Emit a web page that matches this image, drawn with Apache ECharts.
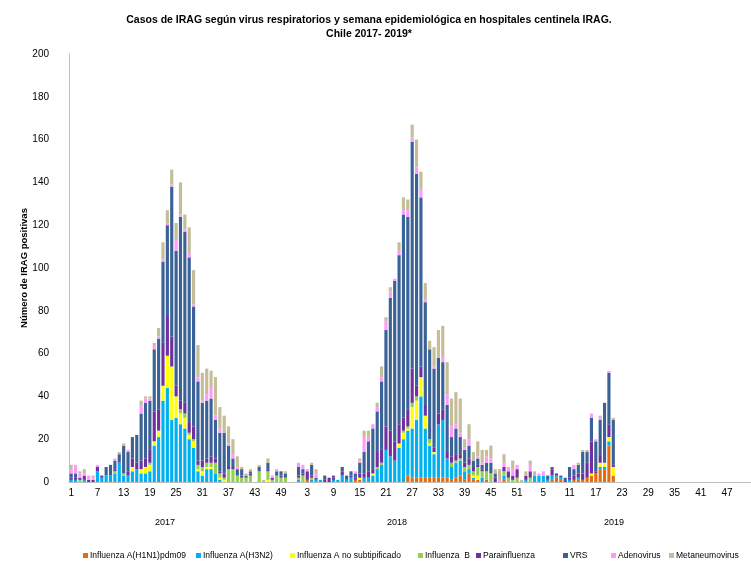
<!DOCTYPE html>
<html>
<head>
<meta charset="utf-8">
<script src="https://cdn.jsdelivr.net/npm/echarts@6/dist/echarts.min.js"></script>
<style>
  html, body { margin: 0; padding: 0; background: #fff; }
  #chart { width: 751px; height: 566px; }
</style>
</head>
<body>
<div id="chart"></div>
<script>
// ===== datos: casos por semana epidemiológica (2017, 2018, 2019) =====
const h1n1_2017 = [0,0,0,0,0,0,0,0,0,0, 0,0,0,0,0,0,0,0,0,0, 0,0,0,0,0,0,0,0,0,0, 0,0,0,0,0,0,0,0,0,0, 0,0,0,0,0,0,0,0,0,0, 0,0];
const h3n2_2017 = [1,1,0,1,0,0,5,2,3,3, 4,9,3,3,5,6,4,4,5,17, 21,38,44,29,30,27,25,20,16,5, 3,6,6,4,1,0,0,0,0,0, 0,0,0,0,0,0,0,0,0,0, 0,0];
const noSub_2017 = [0,0,0,0,0,0,0,0,0,0, 0,0,0,0,2,0,2,3,3,2, 3,7,15,25,10,5,5,2,3,1, 2,1,1,0,1,1,0,0,0,0, 0,0,0,0,0,1,0,0,0,0, 0,0];
const fluB_2017 = [0,0,1,0,0,0,0,0,0,0, 1,0,1,0,0,0,0,0,1,0, 0,0,0,0,0,2,2,1,1,2, 2,2,2,5,2,1,6,6,3,2, 2,3,0,5,0,4,1,3,2,2, 0,0];
const para_2017 = [1,1,1,2,1,1,2,1,0,0, 1,0,0,2,4,3,4,4,6,14, 10,20,19,14,5,4,5,5,6,2, 3,2,3,2,1,2,1,1,0,1, 0,1,0,0,0,1,1,0,1,0, 0,0];
const vrs_2017 = [2,2,0,0,0,0,0,0,4,5, 4,4,13,9,10,13,22,26,23,29, 33,38,42,70,63,86,80,77,56,37, 27,27,27,18,18,19,10,4,3,3, 1,1,0,2,0,3,0,2,2,2, 0,0];
const adeno_2017 = [2,4,2,1,2,1,1,0,0,0, 1,0,0,1,0,0,4,2,1,2, 1,1,1,1,5,1,1,2,1,2, 1,3,5,2,2,0,1,2,1,0, 0,0,0,0,0,0,1,1,0,0, 0,0];
const meta_2017 = [2,0,1,2,0,1,0,0,0,0, 0,1,1,0,0,0,2,1,1,1, 4,8,6,7,8,15,7,12,16,15, 13,12,8,18,10,8,8,7,5,1, 1,1,0,1,1,2,0,0,0,1, 0,0];

const h1n1_2018 = [0,0,1,0,0,0,0,0,0,0, 0,0,0,1,1,0,0,0,0,0, 0,0,0,0,0,3,2,2,2,2, 2,2,2,2,2,1,2,3,1,4, 1,1,0,1,0,0,0,1,0,0, 0,0];
const h3n2_2018 = [1,0,0,1,1,1,0,0,1,1, 3,1,2,0,0,2,2,3,6,8, 15,12,10,16,20,21,23,27,38,23, 15,11,25,27,9,6,7,7,4,2, 1,0,2,0,0,0,0,2,0,0, 0,0];
const noSub_2018 = [0,0,0,0,0,0,0,0,0,0, 0,0,0,0,1,0,0,1,0,0, 0,0,0,2,3,1,10,9,9,6, 1,1,0,0,0,0,0,0,0,0, 1,2,0,0,0,0,0,0,0,0, 0,0];
const fluB_2018 = [1,3,0,1,0,0,0,0,0,0, 0,0,0,0,0,0,0,0,1,1, 0,0,0,0,1,1,2,2,0,0, 2,0,0,0,0,2,1,1,2,2, 2,4,3,4,4,0,0,2,2,1, 2,0];
const para_2018 = [1,1,4,1,0,0,1,2,1,0, 2,0,1,1,2,2,3,2,7,6, 11,12,9,9,6,8,16,5,5,5, 0,2,5,5,3,3,3,2,2,3, 2,1,1,0,0,2,0,2,3,2, 4,0];
const vrs_2018 = [4,2,0,5,1,0,2,0,1,0, 2,2,2,2,5,10,14,19,19,32, 45,62,75,79,95,90,106,99,79,48, 42,37,26,22,22,9,12,8,6,6, 3,3,2,4,5,2,0,0,0,0, 0,0];
const adeno_2018 = [2,2,1,0,2,0,0,0,0,0, 0,0,0,1,1,7,2,2,2,2, 4,3,1,2,2,3,2,3,4,1, 0,1,0,2,5,5,2,2,1,3, 0,1,1,3,2,0,1,2,2,3, 2,0];
const meta_2018 = [0,0,0,1,2,0,0,0,0,0, 0,0,0,0,1,3,3,0,2,5, 2,2,0,4,6,5,6,13,8,8, 4,9,13,15,15,13,15,16,4,7, 4,7,6,3,6,2,5,4,0,4, 0,1];

// 2019: datos hasta la semana 21
const h1n1_2019 = [0,0,0,0,0,0,1,2,1,0, 0,1,1,1,2,3,4,6,6,17, 3];
const h3n2_2019 = [1,0,3,3,3,1,2,1,1,0, 1,0,1,0,0,0,0,1,1,2, 0];
const noSub_2019 = [0,0,0,0,0,0,0,0,0,0, 0,0,0,0,0,1,0,2,2,2, 4];
const fluB_2019 = [0,2,0,0,0,0,0,0,0,0, 0,0,0,0,0,0,0,0,0,0, 0];
const para_2019 = [2,3,0,0,0,0,3,1,0,0, 1,2,2,3,7,15,1,4,0,6, 1];
const vrs_2019 = [0,0,0,0,0,2,1,0,1,2, 5,3,4,10,5,11,14,16,28,24, 21];
const adeno_2019 = [0,3,0,1,2,0,0,0,0,0, 0,2,0,0,0,2,1,1,0,1, 0];
const meta_2019 = [2,2,2,0,0,0,0,0,0,0, 0,0,1,1,1,0,0,1,0,0, 1];

const years = ['2017', '2018', '2019'];
const weeksPerYear = 52;
const seriesNames = ['Influenza A(H1N1)pdm09', 'Influenza A(H3N2)', 'Influenza A no subtipificado',
    'Influenza  B', 'Parainfluenza', 'VRS', 'Adenovirus', 'Metaneumovirus'];
const seriesColors = ['#E46C0A', '#00B0F0', '#FFFF00', '#92D050', '#7030A0', '#3A6297', '#FF99FF', '#C4BD97'];

// categorías: semana 1..52 por año
const weekLabels = [];
years.forEach(() => { for (let w = 1; w <= weeksPerYear; w++) weekLabels.push(String(w)); });

const pad = (arr) => arr.concat(new Array(weeksPerYear - arr.length).fill(null));
const seriesData = [
    [h1n1_2017, h1n1_2018, h1n1_2019],
    [h3n2_2017, h3n2_2018, h3n2_2019],
    [noSub_2017, noSub_2018, noSub_2019],
    [fluB_2017, fluB_2018, fluB_2019],
    [para_2017, para_2018, para_2019],
    [vrs_2017, vrs_2018, vrs_2019],
    [adeno_2017, adeno_2018, adeno_2019],
    [meta_2017, meta_2018, meta_2019]
].map(parts => parts.map(pad).flat());

const font = "'Liberation Sans', Arial, sans-serif";
// posición x de cada ítem de la leyenda (una leyenda por serie)
const legendLeft = [83, 196, 290, 418, 476, 563, 611, 669];

const chart = echarts.init(document.getElementById('chart'), null, { renderer: 'canvas' });
chart.setOption({
    backgroundColor: '#fff',
    animation: false,
    title: {
        text: 'Casos de IRAG según virus respiratorios y semana epidemiológica en hospitales centinela IRAG.\nChile 2017- 2019*',
        left: 364, top: 8, textAlign: 'center',
        textStyle: { fontFamily: font, fontSize: 10.5, fontWeight: 'bold', color: '#000', lineHeight: 14 }
    },
    legend: seriesNames.map((name, i) => ({
        data: [name],
        left: legendLeft[i], top: 551,
        padding: 0,
        icon: 'rect', itemWidth: 5, itemHeight: 5, itemGap: 0,
        textStyle: { fontFamily: font, fontSize: 8.5, color: '#000', padding: [0, 0, 0, -3] }
    })),
    grid: { left: 69, right: 0, top: 54, bottom: 84 },
    xAxis: {
        type: 'category',
        data: weekLabels,
        axisLine: { lineStyle: { color: '#BFBFBF', width: 1 } },
        axisTick: { show: false },
        axisLabel: { interval: 5, margin: 6, fontFamily: font, fontSize: 10, color: '#000' }
    },
    yAxis: {
        type: 'value', min: 0, max: 200, interval: 20,
        name: 'Número de IRAG positivas', nameLocation: 'middle', nameGap: 40,
        nameMoveOverlap: false,
        nameTextStyle: { fontFamily: font, fontSize: 9.5, fontWeight: 'bold', color: '#000' },
        axisLine: { show: true, lineStyle: { color: '#BFBFBF', width: 1 } },
        axisTick: { show: false },
        splitLine: { show: false },
        axisLabel: { margin: 20, fontFamily: font, fontSize: 10, color: '#000' }
    },
    graphic: [
        { type: 'text', left: 155, top: 518, style: { text: years[0], font: "9px " + font, fill: '#000' } },
        { type: 'text', left: 387, top: 518, style: { text: years[1], font: "9px " + font, fill: '#000' } },
        { type: 'text', left: 604, top: 518, style: { text: years[2], font: "9px " + font, fill: '#000' } }
    ],
    series: seriesNames.map((name, i) => ({
        name: name,
        type: 'bar',
        stack: 'total',
        barWidth: '72%',
        itemStyle: { color: seriesColors[i] },
        data: seriesData[i]
    }))
});
</script>
</body>
</html>
